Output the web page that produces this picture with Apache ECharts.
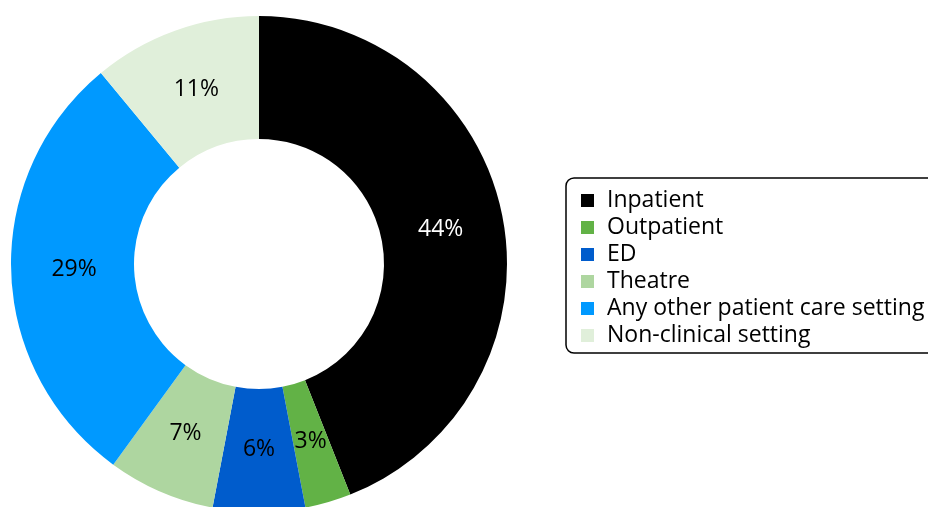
<!DOCTYPE html>
<html>
<head>
<meta charset="utf-8">
<script src="https://cdn.jsdelivr.net/npm/echarts@6/dist/echarts.min.js"></script>
<style>
  html, body { margin: 0; padding: 0; background: #fff; }
  #chart { width: 928px; height: 507px; }
</style>
</head>
<body>
<div id="chart"></div>
<script>
// Share of incidents by care setting (%)
const categories = ['Inpatient', 'Outpatient', 'ED', 'Theatre', 'Any other patient care setting', 'Non-clinical setting'];
const values = [44, 3, 6, 7, 29, 11];
const colors = ['#000000', '#62b246', '#005ccc', '#aed6a0', '#0099ff', '#e0efda'];
const labelColors = ['#ffffff', '#000000', '#000000', '#000000', '#000000', '#000000'];

const fontFamily = '"Open Sans", "Noto Sans", sans-serif';
const center = [259, 264];

const chart = echarts.init(document.getElementById('chart'), null, { renderer: 'canvas' });
chart.setOption({
  animation: false,
  color: colors,
  legend: {
    orient: 'vertical',
    left: 566,
    top: 178,
    padding: [9, 20, 4, 15],
    borderColor: '#000',
    borderWidth: 1.5,
    borderRadius: 8,
    itemWidth: 13,
    itemHeight: 13,
    itemGap: 0,
    icon: 'rect',
    data: categories,
    textStyle: { fontFamily: fontFamily, fontSize: 23, color: '#000', lineHeight: 27, padding: [0, 0, 0, 8] }
  },
  series: [
    {
      // the donut ring
      name: 'setting',
      type: 'pie',
      center: center,
      radius: [125, 248],
      startAngle: 90,
      clockwise: true,
      label: { show: false },
      labelLine: { show: false },
      itemStyle: { borderWidth: 0 },
      emphasis: { disabled: true },
      data: categories.map((name, i) => ({ name: name, value: values[i] }))
    },
    {
      // percentage labels, set slightly inward of the ring's mid radius
      name: 'labels',
      type: 'pie',
      center: center,
      radius: [116, 248],
      startAngle: 90,
      clockwise: true,
      silent: true,
      legendHoverLink: false,
      avoidLabelOverlap: false,
      label: {
        show: true,
        position: 'inside',
        formatter: '{c}%',
        fontFamily: fontFamily,
        fontSize: 23,
        color: '#000'
      },
      labelLine: { show: false },
      itemStyle: { color: 'rgba(0,0,0,0)', borderWidth: 0 },
      emphasis: { disabled: true },
      data: categories.map((name, i) => ({
        name: name,
        value: values[i],
        label: { color: labelColors[i] }
      }))
    }
  ]
});
</script>
</body>
</html>
